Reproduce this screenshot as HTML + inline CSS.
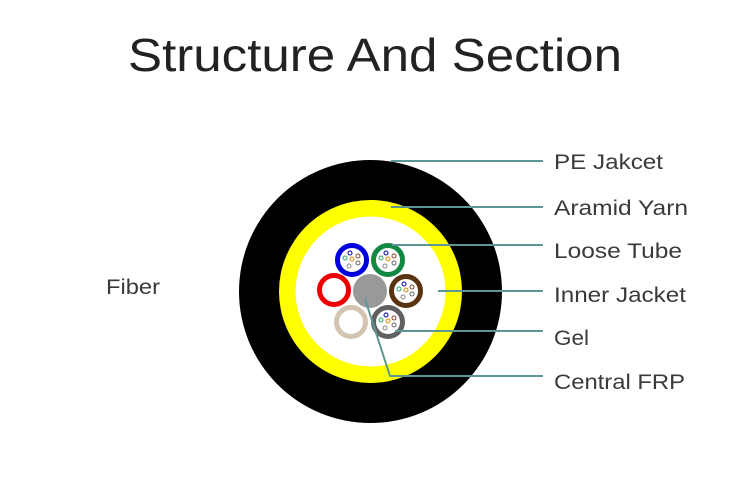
<!DOCTYPE html>
<html><head><meta charset="utf-8"><style>
html,body{margin:0;padding:0;background:#fff;}
body{width:750px;height:497px;overflow:hidden;}
</style></head><body>
<svg width="750" height="497" viewBox="0 0 750 497" xmlns="http://www.w3.org/2000/svg" font-family="Liberation Sans, sans-serif">
<text x="128" y="71" font-size="46" fill="#222" textLength="494" lengthAdjust="spacingAndGlyphs">Structure And Section</text>
<circle cx="370.5" cy="291.5" r="131.5" fill="#000"/>
<circle cx="370.5" cy="291.5" r="91.5" fill="#ffff00"/>
<circle cx="370.5" cy="291.5" r="75" fill="#fff"/>
<circle cx="370" cy="291" r="17" fill="#999"/>
<g fill="none" stroke-width="5">
<circle cx="352" cy="260" r="14.5" stroke="#0000dd"/>
<circle cx="388" cy="260" r="14.5" stroke="#118844"/>
<circle cx="334" cy="290" r="14.5" stroke="#ee0000"/>
<circle cx="406" cy="291" r="14.5" stroke="#5a3410"/>
<circle cx="351" cy="322" r="14.5" stroke="#d2c4b0"/>
<circle cx="388" cy="322" r="14.5" stroke="#606060"/>
</g>
<g fill="none" stroke-width="1">
<g transform="translate(352,260)"><circle cx="-2" cy="-7" r="2" stroke="#00a"/><circle cx="-7" cy="-2" r="2" stroke="#2a6"/><circle cx="0" cy="-1" r="2" stroke="#d80"/><circle cx="6" cy="-4" r="2" stroke="#843"/><circle cx="-3" cy="6" r="2" stroke="#888"/><circle cx="6" cy="3" r="2" stroke="#666"/></g>
<g transform="translate(388,260)"><circle cx="-2" cy="-7" r="2" stroke="#00a"/><circle cx="-7" cy="-2" r="2" stroke="#2a6"/><circle cx="0" cy="-1" r="2" stroke="#d80"/><circle cx="6" cy="-4" r="2" stroke="#843"/><circle cx="-3" cy="6" r="2" stroke="#888"/><circle cx="6" cy="3" r="2" stroke="#666"/></g>
<g transform="translate(406,291)"><circle cx="-2" cy="-7" r="2" stroke="#00a"/><circle cx="-7" cy="-2" r="2" stroke="#2a6"/><circle cx="0" cy="-1" r="2" stroke="#d80"/><circle cx="6" cy="-4" r="2" stroke="#843"/><circle cx="-3" cy="6" r="2" stroke="#888"/><circle cx="6" cy="3" r="2" stroke="#666"/></g>
<g transform="translate(388,322)"><circle cx="-2" cy="-7" r="2" stroke="#00a"/><circle cx="-7" cy="-2" r="2" stroke="#2a6"/><circle cx="0" cy="-1" r="2" stroke="#d80"/><circle cx="6" cy="-4" r="2" stroke="#843"/><circle cx="-3" cy="6" r="2" stroke="#888"/><circle cx="6" cy="3" r="2" stroke="#666"/></g>
</g>
<g stroke="#5e9595" stroke-width="2" fill="none">
<line x1="391" y1="161" x2="543" y2="161"/>
<line x1="391" y1="207" x2="543" y2="207"/>
<line x1="392" y1="245" x2="543" y2="245"/>
<line x1="438" y1="291" x2="543" y2="291"/>
<line x1="395" y1="331" x2="543" y2="331"/>
<polyline points="365,299 390,376 543,376"/>
</g>
<g font-size="21" fill="#3a3a3a">
<text x="554" y="169" textLength="109" lengthAdjust="spacingAndGlyphs">PE Jakcet</text>
<text x="554" y="215" textLength="134" lengthAdjust="spacingAndGlyphs">Aramid Yarn</text>
<text x="554" y="258" textLength="128" lengthAdjust="spacingAndGlyphs">Loose Tube</text>
<text x="554" y="302" textLength="132" lengthAdjust="spacingAndGlyphs">Inner Jacket</text>
<text x="554" y="345" textLength="35" lengthAdjust="spacingAndGlyphs">Gel</text>
<text x="554" y="389" textLength="131" lengthAdjust="spacingAndGlyphs">Central FRP</text>
<text x="106" y="294" textLength="54" lengthAdjust="spacingAndGlyphs">Fiber</text>
</g>
</svg>
</body></html>
